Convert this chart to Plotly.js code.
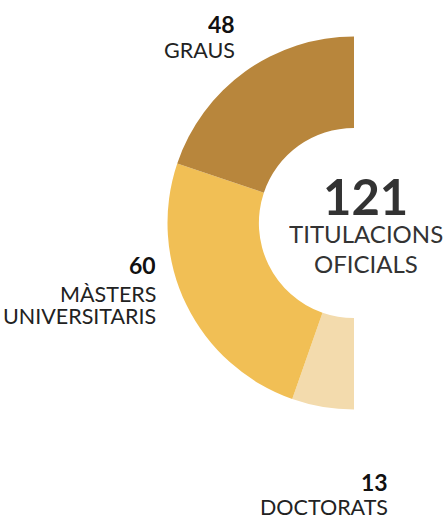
<!DOCTYPE html>
<html>
<head>
<meta charset="utf-8">
<script src="https://cdn.plot.ly/plotly-3.0.1.min.js"></script>
<style>
html,body{margin:0;padding:0;overflow:hidden;background:#fff;width:446px;height:520px;}
#chart{width:708px;height:520px;}
</style>
</head>
<body>
<div id="chart"></div>
<script>
const categories = ["GRAUS", "MÀSTERS<br>UNIVERSITARIS", "DOCTORATS"];
const values = [48, 60, 13];
const colors = ["#b8863c", "#f1bf55", "#f3dbad"];
const totalLabel = "TITULACIONS<br>OFICIALS";

const total = values.reduce((a, b) => a + b, 0);

const W = 708, H = 520;
const px = x => x / W;
const py = y => 1 - y / H;

// clockwise from 12 o'clock: hidden half, then slices in reverse order, ending with GRAUS at the top
const trace = {
  type: "pie",
  values: [total].concat(values.slice().reverse()),
  labels: ["_hidden"].concat(categories.slice().reverse()),
  marker: { colors: ["rgba(0,0,0,0)"].concat(colors.slice().reverse()), line: { width: 0 } },
  hole: 0.51,
  sort: false,
  direction: "clockwise",
  rotation: 0,
  textinfo: "none",
  hoverinfo: "skip",
  showlegend: false,
  domain: { x: [px(354 - 186.5), px(354 + 186.5)], y: [py(223 + 186.5), py(223 - 186.5)] }
};

// label anchor positions (px): [xRight, yNumber, yFirstLine]
const labelPos = [
  [237, 24, 50],
  [158, 265, 294],
  [390, 482, 507]
];
const lineGap = 22;

const FONT = "Lato, sans-serif";
const annotations = [];
values.forEach((v, i) => {
  const [xr, yn, yl] = labelPos[i];
  annotations.push({
    xref: "paper", yref: "paper", x: px(xr), y: py(yn),
    xanchor: "right", yanchor: "middle", showarrow: false,
    text: "<b>" + v + "</b>", height: 24,
    font: { family: FONT, size: 23, color: "#111" }
  });
  categories[i].split("<br>").forEach((line, j) => {
    annotations.push({
      xref: "paper", yref: "paper", x: px(xr), y: py(yl + j * lineGap),
      xanchor: "right", yanchor: "middle", showarrow: false,
      text: line, height: 22,
      font: { family: FONT, size: 21.5, color: "#222" }
    });
  });
});
annotations.push({
  xref: "paper", yref: "paper", x: px(366), y: py(196),
  xanchor: "center", yanchor: "middle", showarrow: false,
  text: "<b>" + total + "</b>", height: 44,
  font: { family: FONT, size: 49, color: "#333" }
});
totalLabel.split("<br>").forEach((line, j) => {
  annotations.push({
    xref: "paper", yref: "paper", x: px(366), y: py(233 + j * 29.5),
    xanchor: "center", yanchor: "middle", showarrow: false,
    text: line, height: 26,
    font: { family: FONT, size: 24, color: "#333" }
  });
});

const layout = {
  width: W, height: H,
  margin: { l: 0, r: 0, t: 0, b: 0 },
  paper_bgcolor: "#fff",
  plot_bgcolor: "#fff",
  annotations: annotations
};

Plotly.newPlot("chart", [trace], layout, { displayModeBar: false, staticPlot: true });
</script>
</body>
</html>
